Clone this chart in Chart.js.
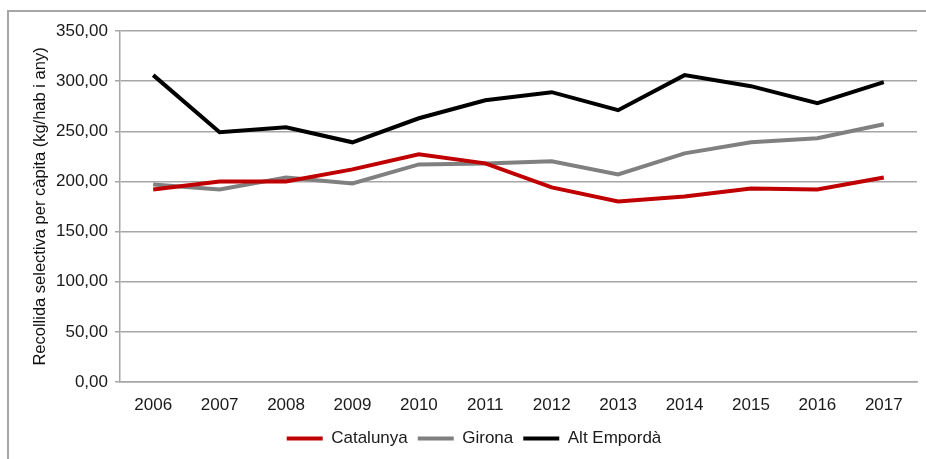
<!DOCTYPE html>
<html>
<head>
<meta charset="utf-8">
<script src="https://cdn.jsdelivr.net/npm/chart.js@4"></script>
<style>
  body { margin: 0; background: #fff; }
  #wrap { position: relative; width: 926px; height: 459px; }
  #frame { position: absolute; left: 7px; top: 10px; right: 0; bottom: 0;
           border-left: 2px solid #a6a6a6; border-top: 2px solid #a6a6a6; }
  canvas { position: absolute; left: 0; top: 0; }
</style>
</head>
<body>
<div id="wrap">
  <div id="frame"></div>
  <canvas id="chart" width="926" height="459"></canvas>
</div>
<script>
// years on the x axis
const years = ['2006', '2007', '2008', '2009', '2010', '2011', '2012', '2013', '2014', '2015', '2016', '2017'];

// kg per inhabitant and year
const catalunya = [192, 200, 200, 212, 227, 218, 194, 180, 185, 193, 192, 204];
const girona = [197, 192, 204, 198, 217, 218, 220, 207, 228, 239, 243, 257];
const altEmporda = [306, 249, 254, 239, 263, 281, 289, 271, 306, 295, 278, 299];

const gridGrey = '#a6a6a6';
const fontFamily = '"Liberation Sans", Arial, sans-serif';

function makeSet(label, data, color) {
    return {
        label: label,
        data: data,
        borderColor: color,
        backgroundColor: color,
        borderWidth: 4,
        pointRadius: 0,
        tension: 0
    };
}

const ctx = document.getElementById('chart').getContext('2d');

new Chart(ctx, {
    type: 'line',
    data: {
        labels: years,
        datasets: [
            makeSet('Catalunya', catalunya, '#c00000'),
            makeSet('Girona', girona, '#808080'),
            makeSet('Alt Empordà', altEmporda, '#000000')
        ]
    },
    options: {
        responsive: false,
        animation: false,
        layout: {
            padding: { left: 31, right: 9, top: 31, bottom: 2 }
        },
        plugins: {
            tooltip: { enabled: false },
            legend: {
                position: 'bottom',
                labels: {
                    usePointStyle: true,
                    pointStyle: 'line',
                    pointStyleWidth: 36,
                    boxHeight: 4,
                    padding: 10,
                    color: '#1a1a1a',
                    font: { family: fontFamily, size: 17 }
                }
            }
        },
        scales: {
            x: {
                offset: true,
                grid: { display: false },
                border: { display: true, color: gridGrey, width: 1.5 },
                ticks: {
                    color: '#1a1a1a',
                    padding: 5,
                    maxRotation: 0,
                    font: { family: fontFamily, size: 17 }
                },
                afterFit: (axis) => { axis.height = 38; }
            },
            y: {
                min: 0,
                max: 350,
                grid: {
                    color: gridGrey,
                    lineWidth: 1.5,
                    tickLength: 5
                },
                border: { display: true, color: gridGrey, width: 1.5 },
                ticks: {
                    stepSize: 50,
                    color: '#1a1a1a',
                    padding: 7,
                    font: { family: fontFamily, size: 17 },
                    callback: (v) => v.toFixed(2).replace('.', ',')
                },
                title: {
                    display: true,
                    text: 'Recollida selectiva per càpita (kg/hab i any)',
                    color: '#111',
                    padding: { top: 0, bottom: 4 },
                    font: { family: fontFamily, size: 16.5 }
                },
                afterFit: (axis) => { axis.width = 89; }
            }
        }
    }
});
</script>
</body>
</html>
